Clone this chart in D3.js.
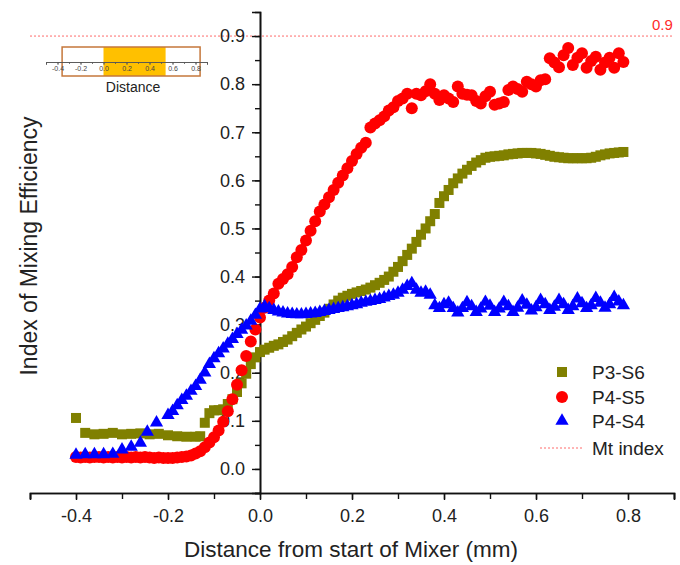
<!DOCTYPE html>
<html>
<head>
<meta charset="utf-8">
<script src="https://cdn.jsdelivr.net/npm/d3@7"></script>
<style>
  html, body { margin: 0; padding: 0; background: #fff; }
  svg { display: block; font-family: "Liberation Sans", Arial, sans-serif; }
</style>
</head>
<body>
<svg id="chart" width="680" height="565"></svg>
<script>
// ---- data ----
const xTicks = [-0.4, -0.2, 0.0, 0.2, 0.4, 0.6, 0.8];
const yTicks = [0.0, 0.1, 0.2, 0.3, 0.4, 0.5, 0.6, 0.7, 0.8, 0.9];
const insetTicks = [-0.4, -0.2, 0.0, 0.2, 0.4, 0.6, 0.8];
const mtIndex = 0.9;
const mixerSpan = [0.0, 0.54];
const insetBox = [-0.36, 0.84];

// P3-S6 (squares)
const p3s6X = [-0.40, -0.38, -0.36, -0.34, -0.32, -0.30, -0.28, -0.26, -0.24, -0.22, -0.20, -0.18, -0.16, -0.14, -0.13,
  -0.12, -0.11, -0.10, -0.09, -0.08, -0.07, -0.06, -0.05, -0.04, -0.03, -0.02, -0.01,
  0.00, 0.01, 0.02, 0.03, 0.04, 0.05, 0.06, 0.07, 0.08, 0.09, 0.10, 0.11, 0.12, 0.13, 0.14, 0.15, 0.16, 0.17, 0.18, 0.19,
  0.20, 0.21, 0.22, 0.23, 0.24, 0.25, 0.26, 0.27, 0.28, 0.29, 0.30, 0.31, 0.32, 0.33, 0.34, 0.35, 0.36, 0.37, 0.38, 0.39,
  0.40, 0.41, 0.42, 0.43, 0.44, 0.45, 0.46, 0.47, 0.48, 0.49, 0.50, 0.51, 0.52, 0.53, 0.54, 0.55, 0.56, 0.57, 0.58, 0.59,
  0.60, 0.61, 0.62, 0.63, 0.64, 0.65, 0.66, 0.67, 0.68, 0.69, 0.70, 0.71, 0.72, 0.73, 0.74, 0.75, 0.76, 0.77, 0.78, 0.79];
const p3s6Y = [0.106, 0.075, 0.072, 0.073, 0.075, 0.072, 0.073, 0.074, 0.072, 0.073, 0.070, 0.068, 0.067, 0.067, 0.068,
  0.096, 0.116, 0.122, 0.122, 0.124, 0.135, 0.145, 0.160, 0.178, 0.198, 0.218, 0.232,
  0.243, 0.248, 0.252, 0.256, 0.259, 0.264, 0.269, 0.276, 0.283, 0.290, 0.296, 0.303, 0.310, 0.318, 0.325, 0.333, 0.342, 0.350, 0.356, 0.360,
  0.364, 0.367, 0.370, 0.373, 0.377, 0.382, 0.387, 0.393, 0.400, 0.410, 0.420, 0.432, 0.445, 0.458, 0.472, 0.487, 0.500, 0.515, 0.530, 0.553,
  0.567, 0.580, 0.594, 0.604, 0.614, 0.622, 0.630, 0.637, 0.642, 0.647, 0.649, 0.650, 0.651, 0.652, 0.654, 0.655, 0.656, 0.657, 0.657, 0.657,
  0.656, 0.655, 0.653, 0.651, 0.649, 0.648, 0.647, 0.646, 0.646, 0.646, 0.646, 0.646, 0.647, 0.649, 0.652, 0.654, 0.656, 0.657, 0.658, 0.659];

// P4-S5 (circles)
const p4s5X = [-0.40, -0.39, -0.38, -0.37, -0.36, -0.35, -0.34, -0.33, -0.32, -0.31, -0.30, -0.29, -0.28, -0.27, -0.26, -0.25,
  -0.24, -0.23, -0.22, -0.21, -0.20, -0.19, -0.18, -0.17, -0.16, -0.15, -0.14, -0.13, -0.12, -0.11, -0.10, -0.09, -0.08,
  -0.07, -0.06, -0.05, -0.04, -0.03, -0.02, -0.01, 0.00, 0.01, 0.02, 0.03, 0.04, 0.05, 0.06, 0.07, 0.08, 0.09,
  0.10, 0.11, 0.12, 0.13, 0.14, 0.15, 0.16, 0.17, 0.18, 0.19, 0.20, 0.21, 0.22, 0.23, 0.24, 0.25, 0.26, 0.27, 0.28, 0.29,
  0.30, 0.31, 0.32, 0.33, 0.34, 0.35, 0.36, 0.37, 0.38, 0.39, 0.40, 0.41, 0.42, 0.43, 0.44, 0.45, 0.46, 0.47, 0.48, 0.49,
  0.50, 0.51, 0.52, 0.53, 0.54, 0.55, 0.56, 0.57, 0.58, 0.59, 0.60, 0.61, 0.62, 0.63, 0.64, 0.65, 0.66, 0.67, 0.68, 0.69,
  0.70, 0.71, 0.72, 0.73, 0.74, 0.75, 0.76, 0.77, 0.78, 0.79];
const p4s5Y = [0.025, 0.024, 0.025, 0.024, 0.025, 0.025, 0.024, 0.025, 0.024, 0.025, 0.024, 0.025, 0.024, 0.025, 0.024, 0.025,
  0.024, 0.023, 0.024, 0.023, 0.023, 0.023, 0.024, 0.025, 0.026, 0.028, 0.032, 0.037, 0.045, 0.055, 0.066, 0.080, 0.098,
  0.120, 0.145, 0.175, 0.205, 0.235, 0.265, 0.290, 0.315, 0.335, 0.350, 0.365, 0.385, 0.395, 0.405, 0.420, 0.440, 0.455,
  0.475, 0.495, 0.515, 0.535, 0.550, 0.565, 0.580, 0.595, 0.610, 0.625, 0.640, 0.655, 0.668, 0.678, 0.710, 0.718, 0.725, 0.733, 0.745, 0.752,
  0.765, 0.770, 0.780, 0.750, 0.780, 0.777, 0.785, 0.800, 0.780, 0.767, 0.777, 0.770, 0.763, 0.795, 0.780, 0.778, 0.777, 0.765, 0.760, 0.775,
  0.784, 0.757, 0.760, 0.763, 0.788, 0.795, 0.790, 0.784, 0.805, 0.800, 0.795, 0.808, 0.810, 0.854, 0.845, 0.835, 0.860, 0.875, 0.840, 0.855,
  0.864, 0.834, 0.848, 0.857, 0.830, 0.845, 0.855, 0.834, 0.864, 0.846];

// P4-S4 (triangles)
const p4s4X = [-0.40, -0.38, -0.36, -0.34, -0.32, -0.30, -0.28, -0.26, -0.245, -0.225, -0.20,
  -0.19, -0.18, -0.17, -0.16, -0.15, -0.14, -0.13, -0.12, -0.11, -0.10, -0.09, -0.08, -0.07, -0.06, -0.05, -0.04, -0.03, -0.02, -0.01,
  0.00, 0.01, 0.02, 0.03, 0.04, 0.05, 0.06, 0.07, 0.08, 0.09, 0.10, 0.11, 0.12, 0.13, 0.14, 0.15, 0.16, 0.17, 0.18, 0.19,
  0.20, 0.21, 0.22, 0.23, 0.24, 0.25, 0.26, 0.27, 0.28, 0.29, 0.30, 0.31, 0.32, 0.33,
  0.34, 0.35, 0.36, 0.37, 0.38, 0.39, 0.40, 0.41, 0.42, 0.43, 0.44, 0.45, 0.46, 0.47, 0.48, 0.49,
  0.50, 0.51, 0.52, 0.53, 0.54, 0.55, 0.56, 0.57, 0.58, 0.59, 0.60, 0.61, 0.62, 0.63, 0.64, 0.65, 0.66, 0.67, 0.68, 0.69,
  0.70, 0.71, 0.72, 0.73, 0.74, 0.75, 0.76, 0.77, 0.78, 0.79];
const p4s4Y = [0.029, 0.030, 0.030, 0.030, 0.031, 0.040, 0.046, 0.054, 0.077, 0.096, 0.112,
  0.120, 0.132, 0.143, 0.152, 0.162, 0.172, 0.185, 0.200, 0.218, 0.230, 0.240, 0.250, 0.260, 0.270, 0.280, 0.289, 0.298, 0.308, 0.320,
  0.333, 0.338, 0.334, 0.330, 0.327, 0.325, 0.323, 0.322, 0.321, 0.321, 0.322, 0.323, 0.324, 0.326, 0.328, 0.330, 0.332, 0.334, 0.336, 0.338,
  0.340, 0.342, 0.345, 0.347, 0.349, 0.351, 0.353, 0.356, 0.359, 0.362, 0.366, 0.372, 0.380, 0.386,
  0.372, 0.366, 0.368, 0.362, 0.340, 0.334, 0.342, 0.345, 0.334, 0.325, 0.334, 0.346, 0.338, 0.326, 0.333, 0.347,
  0.339, 0.326, 0.333, 0.347, 0.338, 0.326, 0.335, 0.350, 0.341, 0.329, 0.336, 0.351, 0.342, 0.330, 0.337, 0.351,
  0.342, 0.330, 0.338, 0.354, 0.344, 0.334, 0.340, 0.355, 0.345, 0.335, 0.342, 0.357, 0.348, 0.340];

const seriesNames = ["P3-S6", "P4-S5", "P4-S4"];
const seriesColors = ["#808000", "#ff0000", "#0000ff"];
const refLabel = "Mt index";

// ---- layout ----
const svg = d3.select("#chart");
const x = d3.scaleLinear().domain([-0.5, 0.9]).range([30, 674]);
const y = d3.scaleLinear().domain([-0.05, 0.95]).range([493, 12]);
const x0 = x(0);
const axisColor = "#111";

// reference line at the mixing target
svg.append("line")
  .attr("x1", 30).attr("x2", 674)
  .attr("y1", y(mtIndex)).attr("y2", y(mtIndex))
  .attr("stroke", "#ff6b6b").attr("stroke-width", 1).attr("stroke-dasharray", "2,2");
svg.append("text")
  .attr("x", 652).attr("y", y(mtIndex) - 6)
  .attr("fill", "#ff2a2a").attr("font-size", 15)
  .text(d3.format(".1f")(mtIndex));

// x axis (bottom)
const xAxisMinor = d3.axisBottom(x).tickValues(d3.range(-0.5, 0.95, 0.1)).tickSize(6).tickFormat("");
const xAxis = d3.axisBottom(x).tickValues(xTicks).tickSize(7).tickPadding(9).tickFormat(d3.format(".1f"));
const gxm = svg.append("g").attr("transform", "translate(0,493)").call(xAxisMinor);
const gx = svg.append("g").attr("transform", "translate(0,493)").call(xAxis);
[gx, gxm].forEach(g => {
  g.select(".domain").attr("stroke", axisColor).attr("stroke-width", 1.6);
  g.selectAll(".tick line").attr("stroke", axisColor).attr("stroke-width", 1.4);
});
gx.selectAll(".tick text").attr("font-size", 18).attr("fill", "#222")
  .attr("font-family", "Liberation Sans, Arial, sans-serif").text(d => d3.format(".1f")(d).replace("−", "-"));

// y axis (at x = 0)
const yAxisMinor = d3.axisLeft(y).tickValues(d3.range(-0.05, 0.95, 0.05).map(v => +v.toFixed(2))).tickSize(5).tickFormat("");
const yAxis = d3.axisLeft(y).tickValues(yTicks).tickSize(8).tickPadding(7).tickFormat(d3.format(".1f"));
const gym = svg.append("g").attr("transform", `translate(${x0},0)`).call(yAxisMinor);
const gy = svg.append("g").attr("transform", `translate(${x0},0)`).call(yAxis);
[gy, gym].forEach(g => {
  g.select(".domain").attr("stroke", axisColor).attr("stroke-width", 1.6);
  g.selectAll(".tick line").attr("stroke", axisColor).attr("stroke-width", 1.4);
});
gy.selectAll(".tick text").attr("font-size", 18).attr("fill", "#222")
  .attr("font-family", "Liberation Sans, Arial, sans-serif");

// axis titles
svg.append("text")
  .attr("x", 351).attr("y", 557).attr("text-anchor", "middle")
  .attr("font-size", 22.5).attr("fill", "#222")
  .text("Distance from start of Mixer (mm)");
svg.append("text")
  .attr("transform", "translate(37,246) rotate(-90)").attr("text-anchor", "middle")
  .attr("font-size", 23).attr("fill", "#222")
  .text("Index of Mixing Efficiency");

// ---- markers ----
const plot = svg.append("g");
const toPts = (xs, ys) => xs.map((v, i) => [v, ys[i]]);
const sq = 10, rad = 6;
const tri = d3.symbol().type(d3.symbolTriangle).size(76);

plot.append("g").selectAll("rect")
  .data(toPts(p3s6X, p3s6Y)).join("rect")
  .attr("x", d => x(d[0]) - sq / 2).attr("y", d => y(d[1]) - sq / 2)
  .attr("width", sq).attr("height", sq)
  .attr("fill", seriesColors[0]);

plot.append("g").selectAll("circle")
  .data(toPts(p4s5X, p4s5Y)).join("circle")
  .attr("cx", d => x(d[0])).attr("cy", d => y(d[1]))
  .attr("r", rad).attr("fill", seriesColors[1]);

plot.append("g").selectAll("path")
  .data(toPts(p4s4X, p4s4Y)).join("path")
  .attr("transform", d => `translate(${x(d[0])},${y(d[1])})`)
  .attr("d", tri).attr("fill", seriesColors[2]);

// ---- legend ----
const legend = svg.append("g");
const legRows = [372, 397, 421];
legend.append("rect").attr("x", 562 - sq / 2).attr("y", legRows[0] - sq / 2).attr("width", sq).attr("height", sq).attr("fill", seriesColors[0]);
legend.append("circle").attr("cx", 562).attr("cy", legRows[1]).attr("r", rad).attr("fill", seriesColors[1]);
legend.append("path").attr("transform", `translate(562,${legRows[2]})`).attr("d", tri).attr("fill", seriesColors[2]);
seriesNames.forEach((name, i) => {
  legend.append("text").attr("x", 592).attr("y", legRows[i] + 7)
    .attr("font-size", 19).attr("fill", "#222").text(name);
});
legend.append("line").attr("x1", 540).attr("x2", 582).attr("y1", 448).attr("y2", 448)
  .attr("stroke", "#ff6b6b").attr("stroke-width", 1).attr("stroke-dasharray", "2,2");
legend.append("text").attr("x", 592).attr("y", 455)
  .attr("font-size", 19).attr("fill", "#222").text(refLabel);

// ---- inset: mixer position along the distance axis ----
const xi = d3.scaleLinear().domain([-0.5, 0.9]).range([46, 207]);
const inset = svg.append("g");
inset.append("rect")
  .attr("x", xi(insetBox[0])).attr("y", 47)
  .attr("width", xi(insetBox[1]) - xi(insetBox[0])).attr("height", 29)
  .attr("fill", "#fff");
inset.append("rect")
  .attr("x", xi(mixerSpan[0])).attr("y", 47)
  .attr("width", xi(mixerSpan[1]) - xi(mixerSpan[0])).attr("height", 29)
  .attr("fill", "#ffc000");
inset.append("rect")
  .attr("x", xi(insetBox[0])).attr("y", 47)
  .attr("width", xi(insetBox[1]) - xi(insetBox[0])).attr("height", 29)
  .attr("fill", "none").attr("stroke", "#c5773b").attr("stroke-width", 1.5);
const ga = inset.append("g").attr("transform", "translate(0,62)")
  .call(d3.axisBottom(xi).tickValues(d3.range(-0.5, 0.95, 0.1)).tickSize(2).tickFormat(""));
const gaLab = inset.append("g").attr("transform", "translate(0,62)")
  .call(d3.axisBottom(xi).tickValues(insetTicks).tickSize(3).tickPadding(1).tickFormat(d3.format(".1f")));
[ga, gaLab].forEach(g => {
  g.select(".domain").attr("stroke", "#555").attr("stroke-width", 0.8);
  g.selectAll(".tick line").attr("stroke", "#555").attr("stroke-width", 0.8);
});
gaLab.selectAll(".tick text").attr("font-size", 7).attr("fill", "#444")
  .text(d => d3.format(".1f")(d).replace("−", "-"));
inset.append("text").attr("x", 133).attr("y", 92).attr("text-anchor", "middle")
  .attr("font-size", 14).attr("fill", "#222").text("Distance");
</script>
</body>
</html>
